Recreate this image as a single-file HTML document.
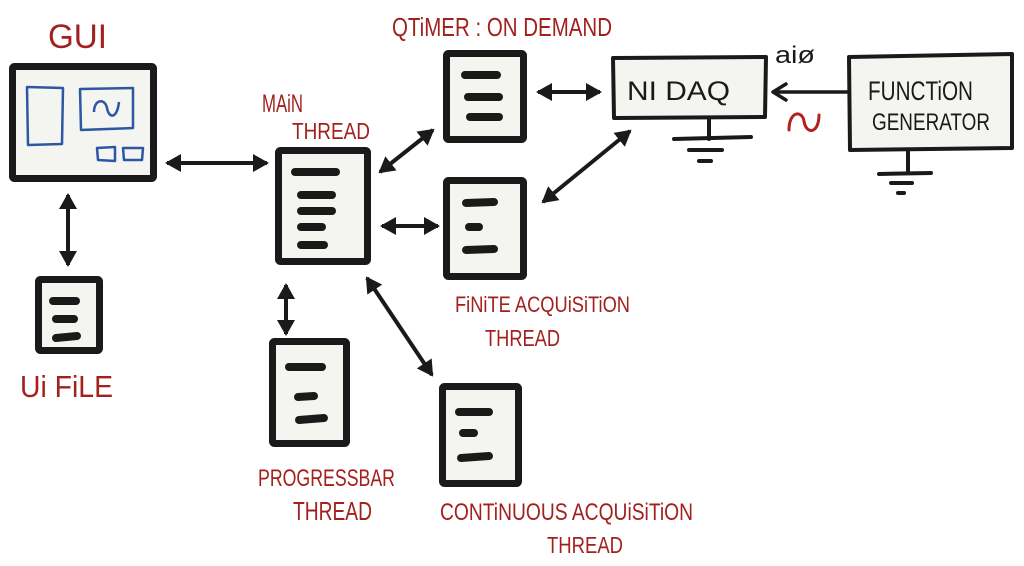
<!DOCTYPE html>
<html><head><meta charset="utf-8"><style>
html,body{margin:0;padding:0;background:#fff;}
svg{display:block;}
.r{fill:#a2211e;font-family:"Liberation Sans",sans-serif;}
.k{fill:#1a1a1a;font-family:"Liberation Sans",sans-serif;}
</style></head><body>
<svg width="1024" height="566" viewBox="0 0 1024 566" xmlns="http://www.w3.org/2000/svg">
<defs>
<marker id="ah" viewBox="0 0 16 18" refX="14" refY="9" markerWidth="16" markerHeight="18" markerUnits="userSpaceOnUse" orient="auto-start-reverse">
<path d="M0,0 L16,9 L0,18 z" fill="#1a1a1a"/>
</marker>
</defs>
<rect width="1024" height="566" fill="#fff"/>

<!-- GUI -->
<text class="r" x="48" y="48" font-size="34" textLength="59" lengthAdjust="spacingAndGlyphs">GUI</text>
<rect x="12.5" y="66.5" width="141" height="112" rx="2" fill="#f4f4f0" stroke="#1a1a1a" stroke-width="7"/>
<g fill="none" stroke="#2d57a3" stroke-width="2.5" stroke-linejoin="round">
<path d="M27,87 L63,88 L62,144 L28,145 Z"/>
<path d="M80,89 L133,88 L133,128 L81,130 Z"/>
<path d="M97,148 L115,147 L115,161 L98,160 Z"/>
<path d="M123,148 L143,148 L142,160 L124,160 Z"/>
<path d="M94,112 C94,99 105,98 107,108 C109,119 117,119 119,102"/>
</g>

<!-- Main thread -->
<text class="r" x="262" y="112" font-size="25" textLength="41" lengthAdjust="spacingAndGlyphs">MAiN</text>
<text class="r" x="292" y="139" font-size="23" textLength="78" lengthAdjust="spacingAndGlyphs">THREAD</text>
<rect x="278.5" y="150.5" width="89" height="111" rx="2" fill="#f4f4f0" stroke="#1a1a1a" stroke-width="7"/>
<g stroke="#1a1a1a" stroke-width="8" stroke-linecap="round">
<line x1="295" y1="172" x2="336" y2="172"/>
<line x1="301" y1="195" x2="332" y2="195"/>
<line x1="301" y1="211" x2="332" y2="211"/>
<line x1="301" y1="227" x2="322" y2="227"/>
<line x1="301" y1="245" x2="324" y2="245"/>
</g>

<!-- QTimer -->
<text class="r" x="392" y="36" font-size="26" textLength="220" lengthAdjust="spacingAndGlyphs">QTiMER : ON DEMAND</text>
<rect x="446.5" y="53.5" width="77" height="86" rx="2" fill="#f4f4f0" stroke="#1a1a1a" stroke-width="7"/>
<g stroke="#1a1a1a" stroke-width="8" stroke-linecap="round">
<line x1="465" y1="75" x2="497" y2="75"/>
<line x1="468" y1="97" x2="499" y2="97"/>
<line x1="470" y1="117" x2="499" y2="117"/>
</g>

<!-- Finite -->
<rect x="446.5" y="180.5" width="77" height="96" rx="2" fill="#f4f4f0" stroke="#1a1a1a" stroke-width="7"/>
<g stroke="#1a1a1a" stroke-width="8" stroke-linecap="round">
<line x1="466" y1="203" x2="494" y2="202"/>
<line x1="469" y1="227" x2="479" y2="227"/>
<line x1="466" y1="250" x2="494" y2="249"/>
</g>
<text class="r" x="455" y="312" font-size="22" textLength="175" lengthAdjust="spacingAndGlyphs">FiNiTE ACQUiSiTiON</text>
<text class="r" x="485" y="346" font-size="23" textLength="75" lengthAdjust="spacingAndGlyphs">THREAD</text>

<!-- UI file -->
<rect x="38.5" y="279.5" width="61" height="71" rx="2" fill="#f4f4f0" stroke="#1a1a1a" stroke-width="7"/>
<g stroke="#1a1a1a" stroke-width="8" stroke-linecap="round">
<line x1="53" y1="301" x2="76" y2="301"/>
<line x1="56" y1="319" x2="74" y2="319"/>
<line x1="56" y1="338" x2="77" y2="336"/>
</g>
<text class="r" x="20" y="397" font-size="31" textLength="93" lengthAdjust="spacingAndGlyphs">Ui FiLE</text>

<!-- Progress -->
<rect x="272.5" y="341.5" width="74" height="102" rx="2" fill="#f4f4f0" stroke="#1a1a1a" stroke-width="7"/>
<g stroke="#1a1a1a" stroke-width="8" stroke-linecap="round">
<line x1="289" y1="367" x2="322" y2="367"/>
<line x1="298" y1="397" x2="314" y2="396"/>
<line x1="299" y1="420" x2="324" y2="418"/>
</g>
<text class="r" x="258" y="486" font-size="24" textLength="137" lengthAdjust="spacingAndGlyphs">PROGRESSBAR</text>
<text class="r" x="293" y="520" font-size="26" textLength="79" lengthAdjust="spacingAndGlyphs">THREAD</text>

<!-- Continuous -->
<rect x="442.5" y="386.5" width="76" height="97" rx="2" fill="#f4f4f0" stroke="#1a1a1a" stroke-width="7"/>
<g stroke="#1a1a1a" stroke-width="8" stroke-linecap="round">
<line x1="459" y1="412" x2="489" y2="412"/>
<line x1="463" y1="433" x2="474" y2="433"/>
<line x1="461" y1="458" x2="489" y2="456"/>
</g>
<text class="r" x="440" y="520" font-size="24" textLength="253" lengthAdjust="spacingAndGlyphs">CONTiNUOUS ACQUiSiTiON</text>
<text class="r" x="547" y="553" font-size="23" textLength="76" lengthAdjust="spacingAndGlyphs">THREAD</text>

<!-- NI DAQ -->
<path d="M613,58 L766,57 L765,117 L614,118 Z" fill="#f4f4f0" stroke="#1a1a1a" stroke-width="4" stroke-linejoin="round"/>
<text class="k" x="627" y="100" font-size="27" textLength="103" lengthAdjust="spacingAndGlyphs">NI DAQ</text>
<g stroke="#1a1a1a" stroke-width="4" stroke-linecap="round">
<line x1="709" y1="118" x2="709" y2="139"/>
<line x1="674" y1="139" x2="751" y2="137"/>
<line x1="689" y1="150" x2="722" y2="150"/>
<line x1="699" y1="161" x2="711" y2="161"/>
</g>
<text class="k" x="775" y="63" font-size="24" textLength="40" lengthAdjust="spacingAndGlyphs">aiø</text>

<!-- Function generator -->
<path d="M849,57 L1012,54 L1012,148 L850,150 Z" fill="#f4f4f0" stroke="#1a1a1a" stroke-width="4" stroke-linejoin="round"/>
<text class="k" x="868" y="100" font-size="27" textLength="105" lengthAdjust="spacingAndGlyphs">FUNCTiON</text>
<text class="k" x="872" y="130" font-size="24" textLength="118" lengthAdjust="spacingAndGlyphs">GENERATOR</text>
<g stroke="#1a1a1a" stroke-width="4" stroke-linecap="round">
<line x1="908" y1="150" x2="908" y2="173"/>
<line x1="879" y1="174" x2="931" y2="173"/>
<line x1="891" y1="183" x2="912" y2="183"/>
<line x1="898" y1="193" x2="904" y2="193"/>
</g>
<!-- FG to DAQ arrow -->
<g stroke="#1a1a1a" stroke-width="3.5" stroke-linecap="round" fill="none" stroke-linejoin="round">
<line x1="848" y1="92" x2="774" y2="92"/>
<path d="M786,84 L773,92 L786,100"/>
</g>
<path d="M789,130 C789,111 802,110 804,121 C806,135 819,134 819,115" fill="none" stroke="#b3201d" stroke-width="3" stroke-linecap="round"/>

<!-- Arrows -->
<g stroke="#1a1a1a" stroke-width="4" marker-start="url(#ah)" marker-end="url(#ah)">
<line x1="167" y1="163" x2="267" y2="163"/>
<line x1="68" y1="195" x2="68" y2="265"/>
<line x1="380" y1="172" x2="433" y2="130"/>
<line x1="538" y1="92" x2="600" y2="92"/>
<line x1="382" y1="226" x2="438" y2="226"/>
<line x1="543" y1="202" x2="630" y2="131"/>
<line x1="286" y1="285" x2="286" y2="334"/>
<line x1="367" y1="278" x2="432" y2="375"/>
</g>
</svg>
</body></html>
